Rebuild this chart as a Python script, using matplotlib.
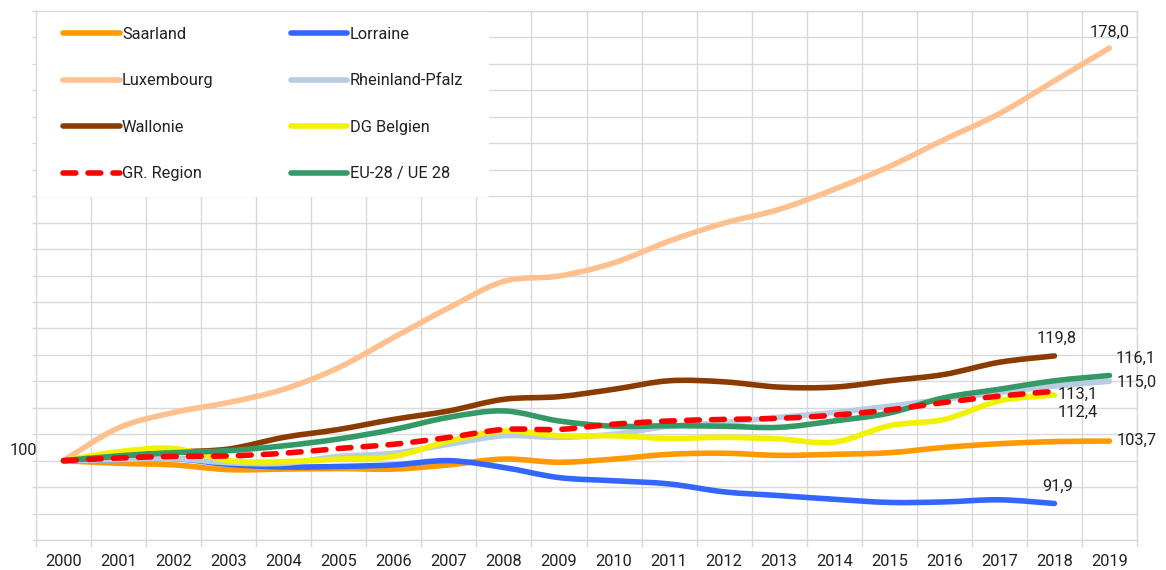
import numpy as np
import matplotlib
matplotlib.use("Agg")
import matplotlib.pyplot as plt
from matplotlib.path import Path
from matplotlib.patches import PathPatch, Rectangle
from matplotlib.lines import Line2D

plt.rcParams['font.family'] = ['Roboto', 'DejaVu Sans']

years = [str(y) for y in range(2000, 2020)]
nan = np.nan
saarland = [100, 99.5, 99.2, 98.3, 98.4, 98.5, 98.4, 99.2, 100.3, 99.7, 100.3, 101.2, 101.4, 101.0, 101.2, 101.5, 102.5, 103.2, 103.6, 103.7]
lorraine = [100, 100.2, 100.4, 99.3, 98.8, 98.9, 99.2, 100.0, 98.7, 96.8, 96.2, 95.6, 94.1, 93.4, 92.7, 92.1, 92.2, 92.6, 91.9, nan]
luxembourg = [100, 106.2, 109.1, 111.0, 113.5, 117.6, 123.3, 128.9, 133.9, 134.9, 137.4, 141.5, 144.9, 147.5, 151.3, 155.6, 160.7, 165.6, 171.8, 178.0]
rheinland_pfalz = [100, 100.2, 100.4, 99.6, 99.5, 100.8, 101.4, 103.1, 104.7, 104.4, 105.0, 106.5, 107.2, 108.2, 109.1, 110.3, 111.6, 112.9, 114.1, 115.0]
wallonie = [100, 100.9, 101.6, 102.2, 104.4, 105.9, 107.8, 109.4, 111.6, 112.1, 113.5, 115.1, 114.9, 113.9, 113.9, 115.1, 116.3, 118.6, 119.8, nan]
dg_belgien = [100, 101.7, 102.3, 100.0, 99.8, 100.3, 100.8, 103.7, 105.6, 104.7, 104.7, 104.2, 104.4, 104.1, 103.5, 106.6, 107.8, 111.3, 112.4, nan]
gr_region = [100, 100.5, 100.8, 100.9, 101.4, 102.3, 103.1, 104.4, 105.9, 105.9, 106.9, 107.5, 107.8, 108.0, 108.6, 109.6, 111.0, 112.2, 113.1, nan]
eu28 = [100, 100.9, 101.5, 101.9, 102.8, 104.1, 105.9, 108.2, 109.4, 107.5, 106.5, 106.6, 106.5, 106.3, 107.5, 109.0, 111.9, 113.5, 115.1, 116.1]

names = ["Saarland", "Lorraine", "Luxembourg", "Rheinland-Pfalz", "Wallonie",
         "DG Belgien", "GR. Region", "EU-28 / UE 28"]
series = [saarland, lorraine, luxembourg, rheinland_pfalz, wallonie, dg_belgien, gr_region, eu28]
colors = ["#FF9900", "#3366FF", "#FFC08F", "#B8CCE4", "#8B3A00", "#F2F200", "#FF0000", "#339966"]
styles = ["-", "-", "-", "-", "-", "-", (0, (2.3, 2.2)), "-"]
draw_order = [0, 1, 2, 3, 4, 5, 7, 6]

# label offsets (pixels) and alignment for end values
label_cfg = {
    "Luxembourg": ((0, 8), "center", "bottom"),
    "Wallonie": ((2, 10), "center", "bottom"),
    "EU-28 / UE 28": ((6, 10), "left", "bottom"),
    "Rheinland-Pfalz": ((7, -1), "left", "center"),
    "GR. Region": ((3, -3), "left", "center"),
    "DG Belgien": ((3, -17), "left", "center"),
    "Saarland": ((7, 1), "left", "center"),
    "Lorraine": ((3, 10), "center", "bottom"),
}

fig = plt.figure(figsize=(11.66, 5.70), dpi=100)
ax = fig.add_axes([36 / 1166, 30 / 570, (1137 - 36) / 1166, (559 - 30) / 570])

ax.set_xlim(-0.5, 19.5)
ax.set_ylim(85, 185)

grid_c = "#D9D9D9"
ax.set_xticks(range(len(years)))
ax.set_xticklabels(years, fontsize=11.8, color="#222222")
ax.set_xticks(np.arange(-0.5, 20, 1), minor=True)
ax.tick_params(axis="x", which="major", length=0, pad=10)
ax.tick_params(axis="x", which="minor", length=5, color=grid_c, width=1)
ax.set_yticks(np.arange(85, 186, 5))
ax.set_yticklabels([])
ax.tick_params(axis="y", length=3, color=grid_c, width=1)
ax.grid(True, which="minor", axis="x", color=grid_c, lw=1, zorder=0)
ax.grid(True, which="major", axis="y", color=grid_c, lw=1, zorder=0)
for s in ax.spines.values():
    s.set_color(grid_c)
    s.set_linewidth(1)
ax.set_axisbelow(True)

# white box behind legend
ax.add_patch(Rectangle((0, (540 - 197) / 529), (489 - 36) / 1101, 1, transform=ax.transAxes,
                       facecolor="white", edgecolor="none", zorder=1))


def smooth_path(xs, ys):
    pts = [(x, y) for x, y in zip(xs, ys) if not np.isnan(y)]
    p = np.array(pts, dtype=float)
    n = len(p)
    verts = [p[0]]
    codes = [Path.MOVETO]
    for i in range(n - 1):
        p0 = p[i - 1] if i > 0 else p[i]
        p1 = p[i]
        p2 = p[i + 1]
        p3 = p[i + 2] if i + 2 < n else p[i + 1]
        c1 = p1 + (p2 - p0) / 6.0
        c2 = p2 - (p3 - p1) / 6.0
        verts += [c1, c2, p2]
        codes += [Path.CURVE4] * 3
    return Path(verts, codes)


xs = np.arange(len(years))
lw = 4.0
for k in draw_order:
    ys = np.array(series[k], dtype=float)
    path = smooth_path(xs, ys)
    patch = PathPatch(path, fill=False, edgecolor=colors[k], lw=lw, linestyle=styles[k],
                      capstyle="round", joinstyle="round", zorder=3 + draw_order.index(k))
    ax.add_patch(patch)
    last = np.where(~np.isnan(ys))[0][-1]
    off, ha, va = label_cfg[names[k]]
    txt = f"{ys[last]:.1f}".replace(".", ",")
    ax.annotate(txt, (xs[last], ys[last]), xytext=off, textcoords="offset pixels",
                ha=ha, va=va, fontsize=11.8, color="#222222", annotation_clip=False, zorder=20)

ax.annotate("100", (xs[0], saarland[0]), xytext=(-26, 10), textcoords="offset pixels",
            ha="right", va="center", fontsize=11.8, color="#222222", annotation_clip=False)

handles = [Line2D([0], [0], color=colors[k], lw=lw, linestyle=styles[k],
                  solid_capstyle="round", dash_capstyle="round") for k in range(8)]
order = [0, 2, 4, 6, 1, 3, 5, 7]
leg = ax.legend([handles[i] for i in order], [names[i] for i in order], ncol=2,
                loc="upper left", bbox_to_anchor=(27 / 1101, 1 - 16 / 529), frameon=False,
                fontsize=11.8, handlelength=3.45, handletextpad=0.15, columnspacing=4.7,
                labelspacing=1.92, borderpad=0, borderaxespad=0)
leg.set_zorder(30)
for t in leg.get_texts():
    t.set_color("#222222")

fig.savefig("out.png", dpi=100, facecolor="white")
